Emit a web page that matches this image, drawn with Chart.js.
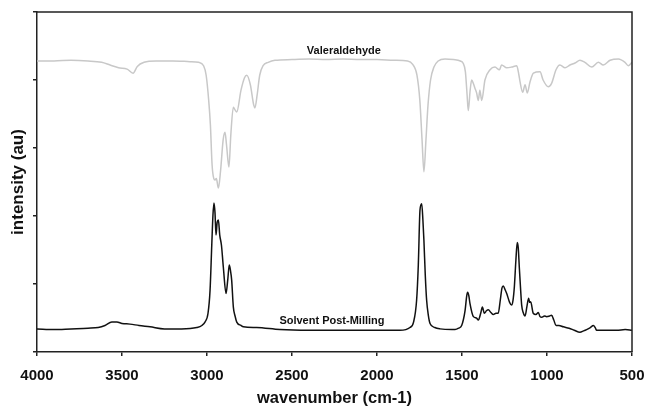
<!DOCTYPE html>
<html>
<head>
<meta charset="utf-8">
<script src="https://cdn.jsdelivr.net/npm/chart.js@4/dist/chart.umd.min.js"></script>
<style>
  body { margin: 0; background: #fff; }
  #wrap { width: 646px; height: 412px; }
</style>
</head>
<body>
<div id="wrap"><canvas id="irChart" width="646" height="412"></canvas></div>
<script>
// wavenumbers (cm-1) and intensities
const valWn = [4000, 3900, 3800, 3700, 3620, 3570, 3520, 3470, 3435, 3410, 3370, 3300, 3200, 3100, 3050, 3020, 3005, 2990, 2980, 2970, 2960, 2953, 2945, 2933, 2920, 2905, 2894, 2885, 2871, 2860, 2845, 2835, 2825, 2800, 2780, 2766, 2745, 2725, 2718, 2705, 2690, 2670, 2640, 2600, 2500, 2400, 2300, 2200, 2100, 2000, 1900, 1820, 1790, 1765, 1748, 1735, 1724, 1712, 1700, 1685, 1665, 1640, 1600, 1550, 1510, 1494, 1480, 1470, 1463, 1452, 1443, 1432, 1424, 1414, 1404, 1395, 1384, 1365, 1335, 1306, 1280, 1267, 1237, 1208, 1178, 1165, 1159, 1143, 1129, 1116, 1100, 1080, 1041, 1023, 992, 973, 947, 924, 894, 865, 835, 806, 777, 737, 698, 669, 629, 580, 541, 522, 500];
const valInt = [4.28, 4.28, 4.29, 4.28, 4.26, 4.22, 4.18, 4.16, 4.10, 4.20, 4.26, 4.28, 4.28, 4.27, 4.26, 4.21, 4.07, 3.70, 3.34, 2.75, 2.55, 2.53, 2.55, 2.41, 2.67, 3.12, 3.23, 3.04, 2.72, 3.19, 3.60, 3.56, 3.53, 3.85, 4.03, 4.07, 3.93, 3.63, 3.59, 3.78, 4.07, 4.21, 4.26, 4.29, 4.30, 4.31, 4.30, 4.31, 4.30, 4.30, 4.29, 4.28, 4.23, 4.07, 3.70, 3.12, 2.65, 3.12, 3.63, 4.00, 4.19, 4.28, 4.31, 4.30, 4.28, 4.25, 4.12, 3.78, 3.55, 3.85, 4.00, 3.94, 3.88, 3.81, 3.70, 3.85, 3.70, 4.00, 4.15, 4.19, 4.15, 4.22, 4.18, 4.19, 4.21, 4.07, 3.98, 3.82, 3.93, 3.81, 3.97, 4.10, 4.12, 4.00, 3.90, 3.95, 4.15, 4.22, 4.18, 4.22, 4.25, 4.29, 4.26, 4.19, 4.26, 4.22, 4.29, 4.31, 4.26, 4.21, 4.26];

const solWn = [4000, 3900, 3800, 3700, 3640, 3600, 3560, 3530, 3500, 3453, 3400, 3335, 3250, 3150, 3060, 3030, 3012, 2994, 2982, 2972, 2965, 2959, 2953, 2947, 2940, 2933, 2925, 2915, 2904, 2888, 2878, 2869, 2862, 2855, 2845, 2835, 2825, 2800, 2786, 2708, 2571, 2400, 2259, 2100, 1865, 1806, 1785, 1767, 1757, 1747, 1737, 1730, 1724, 1716, 1708, 1698, 1688, 1660, 1629, 1560, 1541, 1520, 1502, 1482, 1472, 1467, 1460, 1453, 1433, 1415, 1404, 1390, 1380, 1369, 1355, 1345, 1330, 1316, 1300, 1287, 1275, 1265, 1257, 1247, 1237, 1220, 1208, 1200, 1192, 1183, 1175, 1169, 1163, 1155, 1149, 1140, 1129, 1118, 1108, 1102, 1096, 1081, 1065, 1051, 1041, 1031, 1015, 1002, 985, 973, 960, 947, 930, 904, 870, 840, 806, 785, 767, 745, 727, 715, 708, 650, 590, 540, 500];
const solInt = [0.34, 0.33, 0.34, 0.35, 0.36, 0.39, 0.44, 0.44, 0.42, 0.41, 0.39, 0.37, 0.34, 0.34, 0.36, 0.39, 0.44, 0.57, 0.91, 1.57, 2.01, 2.19, 2.05, 1.72, 1.91, 1.94, 1.72, 1.57, 1.25, 0.86, 1.06, 1.28, 1.20, 1.06, 0.66, 0.53, 0.44, 0.39, 0.37, 0.36, 0.33, 0.32, 0.32, 0.32, 0.32, 0.36, 0.44, 0.76, 1.28, 2.09, 2.18, 1.94, 1.64, 1.13, 0.76, 0.54, 0.42, 0.36, 0.34, 0.33, 0.33, 0.35, 0.39, 0.61, 0.83, 0.88, 0.83, 0.71, 0.52, 0.50, 0.47, 0.57, 0.66, 0.57, 0.61, 0.62, 0.58, 0.55, 0.57, 0.57, 0.76, 0.94, 0.97, 0.92, 0.86, 0.73, 0.69, 0.76, 0.96, 1.35, 1.61, 1.53, 1.25, 0.91, 0.69, 0.58, 0.53, 0.67, 0.79, 0.73, 0.74, 0.57, 0.55, 0.58, 0.52, 0.51, 0.53, 0.52, 0.53, 0.54, 0.47, 0.39, 0.39, 0.37, 0.35, 0.32, 0.29, 0.31, 0.33, 0.36, 0.39, 0.35, 0.32, 0.32, 0.32, 0.33, 0.32];

const xTicks = [4000, 3500, 3000, 2500, 2000, 1500, 1000, 500];

// curve labels, placed in data coordinates
const labels = [
    { text: 'Valeraldehyde', wn: 2195, y: 4.43 },
    { text: 'Solvent Post-Milling', wn: 2265, y: 0.46 }
];

const FONT = '"Liberation Sans", Arial, sans-serif';

function toPoints(xs, ys) {
    return xs.map((x, i) => ({ x: x, y: ys[i] }));
}

const frameAndLabels = {
    id: 'frameAndLabels',
    afterDraw(chart) {
        const { ctx, chartArea: a, scales } = chart;
        ctx.save();
        ctx.strokeStyle = '#222';
        ctx.lineWidth = 1.5;
        ctx.beginPath();
        ctx.moveTo(a.left, a.top);
        ctx.lineTo(a.right, a.top);
        ctx.lineTo(a.right, a.bottom);
        ctx.stroke();

        ctx.fillStyle = '#111';
        ctx.font = 'bold 11px ' + FONT;
        ctx.textAlign = 'center';
        ctx.textBaseline = 'middle';
        labels.forEach(l => {
            ctx.fillText(l.text, scales.x.getPixelForValue(l.wn), scales.y.getPixelForValue(l.y));
        });
        ctx.restore();
    }
};

const ctx = document.getElementById('irChart').getContext('2d');

new Chart(ctx, {
    type: 'line',
    data: {
        datasets: [
            {
                label: 'Valeraldehyde',
                data: toPoints(valWn, valInt),
                borderColor: '#c8c8c8',
                borderWidth: 1.5,
                pointRadius: 0,
                cubicInterpolationMode: 'monotone'
            },
            {
                label: 'Solvent Post-Milling',
                data: toPoints(solWn, solInt),
                borderColor: '#111',
                borderWidth: 1.5,
                pointRadius: 0,
                cubicInterpolationMode: 'monotone'
            }
        ]
    },
    options: {
        responsive: false,
        animation: false,
        layout: { padding: { top: 12, right: 14, bottom: 0, left: 0 } },
        plugins: {
            legend: { display: false },
            tooltip: { enabled: false }
        },
        scales: {
            x: {
                type: 'linear',
                reverse: true,
                min: 500,
                max: 4000,
                afterBuildTicks: s => { s.ticks = xTicks.map(v => ({ value: v })); },
                ticks: {
                    font: { family: FONT, weight: 'bold', size: 15 },
                    color: '#111',
                    padding: 11,
                    maxRotation: 0,
                    callback: v => String(v)
                },
                grid: { drawOnChartArea: false, tickLength: 4, color: '#222', lineWidth: 1.5 },
                border: { color: '#222', width: 1.5 },
                title: {
                    display: true,
                    text: 'wavenumber (cm-1)',
                    font: { family: FONT, weight: 'bold', size: 16.5 },
                    color: '#111',
                    padding: { top: 0, bottom: 4 }
                },
                afterFit: s => {
                    s.height = 60;
                    s.paddingLeft = 0;
                    s.paddingRight = 0;
                }
            },
            y: {
                min: 0,
                max: 5,
                ticks: { display: false, stepSize: 1 },
                grid: { drawOnChartArea: false, tickLength: 4, color: '#222', lineWidth: 1.5 },
                border: { color: '#222', width: 1.5 },
                title: {
                    display: true,
                    text: 'intensity (au)',
                    font: { family: FONT, weight: 'bold', size: 17 },
                    color: '#111',
                    padding: { top: 8, bottom: 0 }
                },
                afterFit: s => { s.width = 37; }
            }
        }
    },
    plugins: [frameAndLabels]
});
</script>
</body>
</html>
